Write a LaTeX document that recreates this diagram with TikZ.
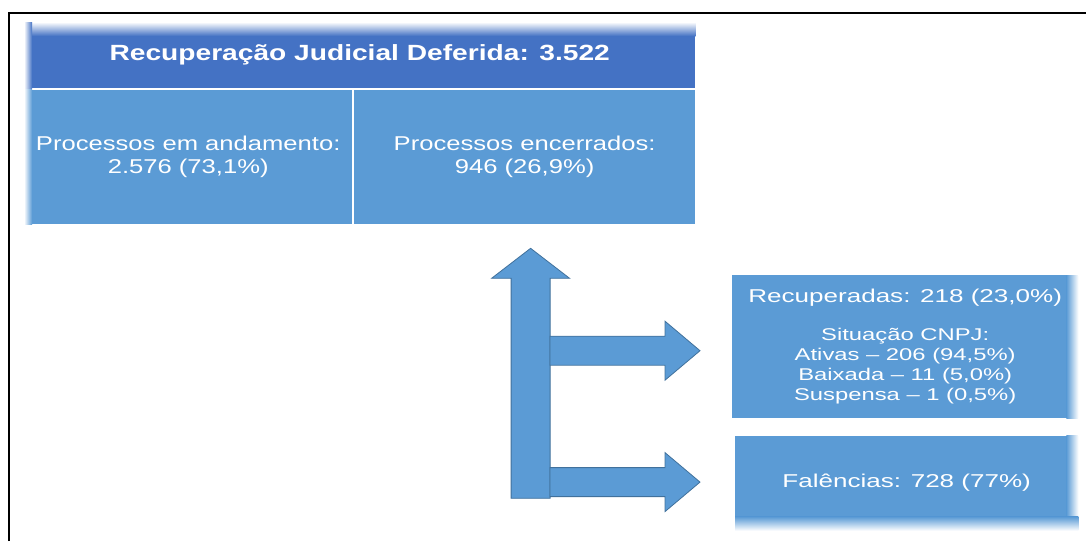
\documentclass[tikz,border=0pt]{standalone}
\usepackage{fontspec}
\setmainfont{Liberation Sans}
\newfontfamily\hdfont{Liberation Sans}[FakeStretch=1.28]
\newfontfamily\bxfont{Liberation Sans}[FakeStretch=1.4]
\usetikzlibrary{positioning,calc}
\definecolor{hdblue}{RGB}{68,114,196}
\definecolor{cellblue}{RGB}{91,155,213}
\definecolor{arrline}{RGB}{65,113,156}
\tikzstyle{hdbox}=[rectangle, fill=hdblue, text=white, inner sep=0pt, minimum width=671pt,
minimum height=66pt, font=\hdfont\bfseries\fontsize{22}{26}\selectfont]
\tikzstyle{cellbox}=[rectangle, fill=cellblue, text=white, inner sep=0pt, minimum height=134pt,
align=center, font=\hdfont\fontsize{20}{23}\selectfont]
\tikzstyle{outbox}=[rectangle, fill=cellblue, text=white, inner sep=0pt, align=center,
font=\bxfont\fontsize{18.6}{20}\selectfont]
\tikzstyle{blockarrow}=[fill=cellblue, draw=arrline, line width=0.8pt, line join=miter]
\newcommand\smline[1]{{\fontsize{17}{20}\selectfont #1}}

\begin{document}
\begin{tikzpicture}[x=1pt, y=-1pt, node distance=0pt]
\useasboundingbox (0,0) rectangle (1086,541);

    \node (hdr) [hdbox, anchor=north west] at (24,22) {Recuperação Judicial Deferida: 3.522};
    \node (andam) [cellbox, minimum width=328pt, below=1.5pt of hdr.south west, anchor=north west]
        {Processos em andamento:\\ 2.576 (73,1\%)};
    \node (encerr) [cellbox, minimum width=341pt, right=1.5pt of andam]
        {Processos encerrados:\\ 946 (26,9\%)};

    \node (recup) [outbox, minimum width=346pt, minimum height=143pt, anchor=north west] at (732,275)
        {Recuperadas: 218 (23,0\%)\\[18pt]
         \smline{Situação CNPJ:}\\ \smline{Ativas – 206 (94,5\%)}\\
         \smline{Baixada – 11 (5,0\%)}\\ \smline{Suspensa – 1 (0,5\%)}};
    \node (falen) [outbox, minimum width=343pt, minimum height=95pt, below=17pt of recup.south west,
        anchor=north west, xshift=3pt] {Falências: 728 (77\%)};

%soft edges
    \shade[top color=white, bottom color=hdblue] (hdr.north west) rectangle ($(hdr.north east)+(0,14)$);
    \shade[left color=white, right color=hdblue] (hdr.north west) rectangle ($(hdr.south west)+(8,0)$);
    \shade[left color=white, right color=cellblue] (andam.north west) rectangle ($(andam.south west)+(8,0)$);
    \shade[left color=cellblue, right color=white] ($(recup.north east)+(-12,0)$) rectangle (recup.south east);
    \shade[left color=cellblue, right color=white] ($(falen.north east)+(-12,0)$) rectangle (falen.south east);
    \shade[top color=cellblue, bottom color=white] ($(falen.south west)+(0,-14)$) rectangle (falen.south east);

%arrows, tips are placed off the boxes they point to
    \coordinate (uptip) at ($(encerr.south)+(6,24)$);
    \coordinate (tipa) at ($(recup.west)+(-32,4)$);
    \coordinate (tipb) at ($(falen.west)+(-35,-1)$);

    \draw[blockarrow] (uptip) -- ++(39,30) -- ++(-19.5,0) -- ++(0,220) -- ++(-39,0) -- ++(0,-220)
        -- ++(-19.5,0) -- cycle;
    \draw[blockarrow] (tipa) -- ++(-35,-29.5) -- ++(0,15) -- ++(-115,0) -- ++(0,29) -- ++(115,0)
        -- ++(0,15) -- cycle;
    \draw[blockarrow] (tipb) -- ++(-35,-29.5) -- ++(0,15) -- ++(-115,0) -- ++(0,29) -- ++(115,0)
        -- ++(0,15) -- cycle;

%frame
    \draw[line width=2pt] (9,541) -- (9,13) -- (1086,13);

\end{tikzpicture}
\end{document}
